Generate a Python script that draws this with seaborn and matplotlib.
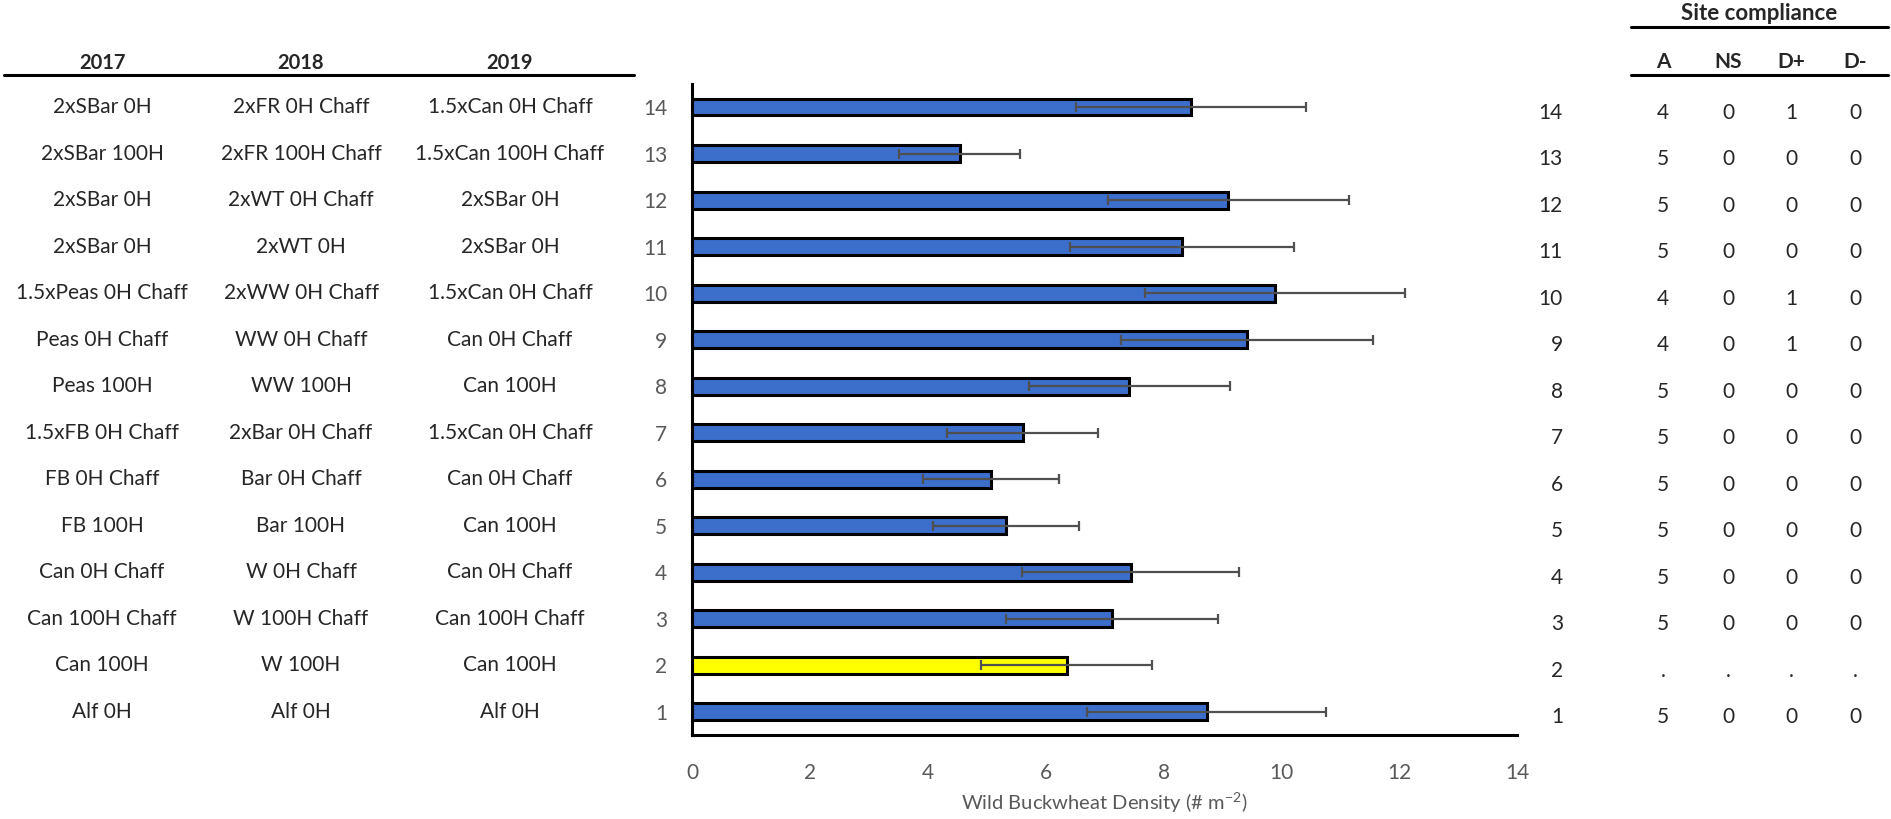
import matplotlib
matplotlib.use('Agg')
import matplotlib.pyplot as plt
import matplotlib.transforms as mtransforms
import seaborn as sns
import pandas as pd

##Treatment numbers 1-14 (bottom to top) and the wild buckwheat density means with error
trt = list(range(1, 15))
density = [8.73, 6.36, 7.13, 7.44, 5.32, 5.07, 5.61, 7.42, 9.41, 9.89, 8.31, 9.10, 4.54, 8.47]
err = [2.03, 1.45, 1.80, 1.84, 1.24, 1.16, 1.28, 1.70, 2.14, 2.20, 1.90, 2.04, 1.03, 1.95]
bar_colors = ['#3C6ECB', '#FFFF00'] + ['#3C6ECB'] * 12

##Rotation labels per year (treatment 1 first)
rot_2017 = ['Alf 0H', 'Can 100H', 'Can 100H Chaff', 'Can 0H Chaff', 'FB 100H', 'FB 0H Chaff',
            '1.5xFB 0H Chaff', 'Peas 100H', 'Peas 0H Chaff', '1.5xPeas 0H Chaff', '2xSBar 0H',
            '2xSBar 0H', '2xSBar 100H', '2xSBar 0H']
rot_2018 = ['Alf 0H', 'W 100H', 'W 100H Chaff', 'W 0H Chaff', 'Bar 100H', 'Bar 0H Chaff',
            '2xBar 0H Chaff', 'WW 100H', 'WW 0H Chaff', '2xWW 0H Chaff', '2xWT 0H',
            '2xWT 0H Chaff', '2xFR 100H Chaff', '2xFR 0H Chaff']
rot_2019 = ['Alf 0H', 'Can 100H', 'Can 100H Chaff', 'Can 0H Chaff', 'Can 100H', 'Can 0H Chaff',
            '1.5xCan 0H Chaff', 'Can 100H', 'Can 0H Chaff', '1.5xCan 0H Chaff', '2xSBar 0H',
            '2xSBar 0H', '1.5xCan 100H Chaff', '1.5xCan 0H Chaff']

##Site compliance counts ('.' = not applicable)
comp_A = ['5', '.', '5', '5', '5', '5', '5', '5', '4', '4', '5', '5', '5', '4']
comp_NS = ['0', '.', '0', '0', '0', '0', '0', '0', '0', '0', '0', '0', '0', '0']
comp_Dp = ['0', '.', '0', '0', '0', '0', '0', '0', '1', '1', '0', '0', '0', '1']
comp_Dm = ['0', '.', '0', '0', '0', '0', '0', '0', '0', '0', '0', '0', '0', '0']

df = pd.DataFrame({'trt': trt, 'density': density, 'err': err})

sns.set_style('white')
plt.rcParams['font.family'] = ['Lato', 'DejaVu Sans']
plt.rcParams['mathtext.default'] = 'regular'

fig = plt.figure(figsize=(18.91, 8.19), dpi=100)
ax = fig.add_axes([0.366, 0.1026, 0.4363, 0.795])

sns.barplot(data=df, x='density', y='trt', hue='trt', palette=bar_colors, orient='h',
            native_scale=True, dodge=False, width=0.36, edgecolor='black', linewidth=2.2,
            saturation=1, legend=False, errorbar=None, ax=ax)
ax.errorbar(df['density'], df['trt'], xerr=df['err'], fmt='none', ecolor='#505050',
            elinewidth=1.6, capsize=3.5, capthick=1.6)

ax.set_xlim(0, 14)
ax.set_ylim(0.5, 14.5)
ax.set_xticks(range(0, 15, 2))
ax.set_yticks(trt)
ax.set_yticklabels([str(t) for t in trt])
ax.tick_params(axis='both', length=0, labelsize=15, labelcolor='#595959')
ax.tick_params(axis='y', pad=18)
ax.tick_params(axis='x', pad=20)
ax.set_xlabel(r'Wild Buckwheat Density (# m$^{-2}$)', fontsize=14.5, color='#595959', labelpad=6)
ax.set_ylabel('')
for side in ['top', 'right']:
    ax.spines[side].set_visible(False)
for side in ['left', 'bottom']:
    ax.spines[side].set_color('black')
    ax.spines[side].set_linewidth(2.2)

##Text tables on each side, x in figure fraction and y in data units
tr = mtransforms.blended_transform_factory(fig.transFigure, ax.transData)
W = 1891.0
H = 819.0

for xpix, head, labs in [(102, '2017', rot_2017), (301, '2018', rot_2018), (510, '2019', rot_2019)]:
    fig.text(xpix / W, 1 - 63 / H, head, ha='center', va='center', fontsize=14.5, fontweight='bold')
    for t, lab in zip(trt, labs):
        ax.text(xpix / W, t, lab, transform=tr, ha='center', va='center', fontsize=15)

fig.add_artist(plt.Line2D([4 / W, 634 / W], [1 - 75 / H, 1 - 75 / H], color='black', lw=2.2))

##Right side compliance table
for t in trt:
    ax.text(1563 / W, t - 0.12, str(t), transform=tr, ha='right', va='center', fontsize=15)

fig.text(1759 / W, 1 - 14 / H, 'Site compliance', ha='center', va='center', fontsize=16, fontweight='bold')
for xpix, head, vals in [(1663, 'A', comp_A), (1728, 'NS', comp_NS), (1791, 'D+', comp_Dp), (1855, 'D-', comp_Dm)]:
    fig.text(xpix / W, 1 - 62 / H, head, ha='center', va='center', fontsize=15, fontweight='bold')
    for t, v in zip(trt, vals):
        ax.text(xpix / W, t - 0.12, v, transform=tr, ha='center', va='center', fontsize=15)

fig.add_artist(plt.Line2D([1631 / W, 1888 / W], [1 - 27 / H, 1 - 27 / H], color='black', lw=2.2))
fig.add_artist(plt.Line2D([1631 / W, 1888 / W], [1 - 75 / H, 1 - 75 / H], color='black', lw=2.2))

fig.savefig('out.png', dpi=100)
